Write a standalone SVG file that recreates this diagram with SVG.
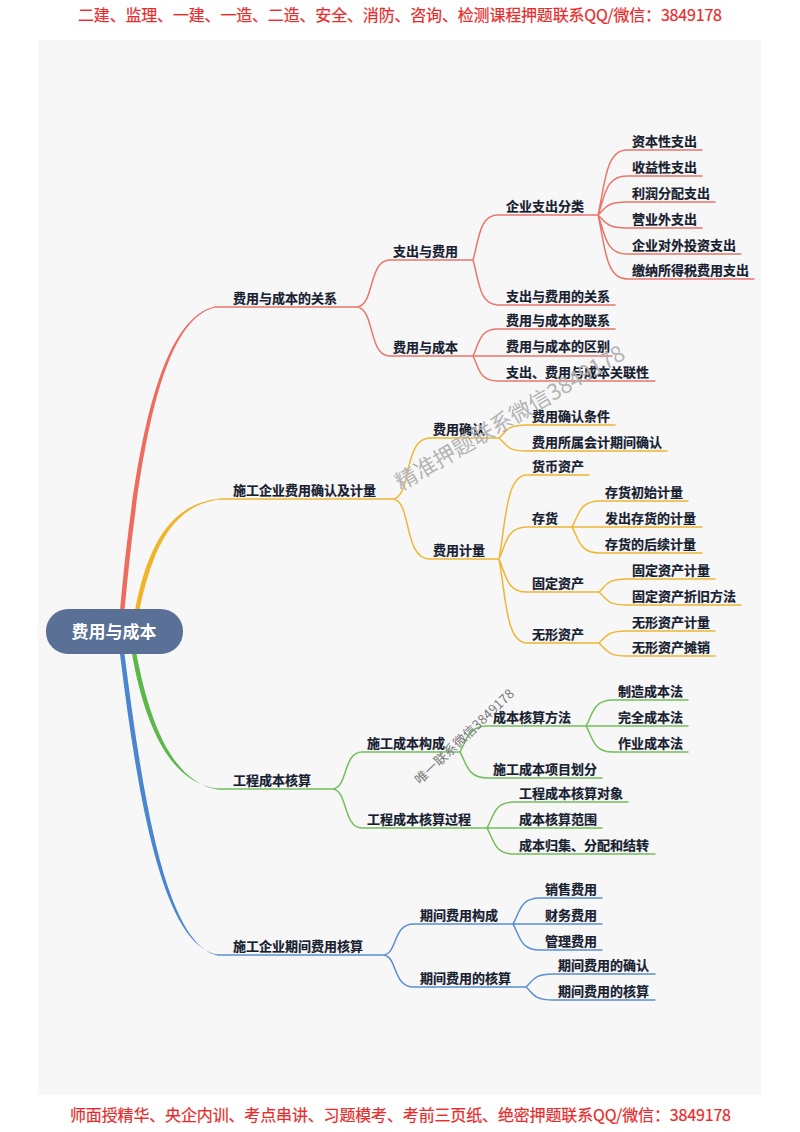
<svg xmlns="http://www.w3.org/2000/svg" width="800" height="1132" viewBox="0 0 800 1132">
<style>
text{font-family:"Noto Sans CJK SC","Liberation Sans",sans-serif}
.n{font-size:13px;font-weight:700;fill:#16202f;stroke:#16202f;stroke-width:.2px}
.b{font-size:16px;fill:#e92a2a;stroke:#e92a2a;stroke-width:.2px}
.l{fill:none;stroke-width:1.5;stroke-linecap:round}
.r{stroke:#e8776a}.y{stroke:#eeb735}.g{stroke:#74bf5c}.u{stroke:#5b8fcf}
</style>
<rect width="800" height="1132" fill="#fff"/>
<rect x="38" y="40" width="723" height="1055" fill="#f7f7f8"/>
<text class="b" x="78" y="21" textLength="644">二建、监理、一建、一造、二造、安全、消防、咨询、检测课程押题联系QQ/微信：3849178</text>
<g id="connectors">
<path fill="#ee6b5e" d="M120 610C132 480 153 320 215 306.500L215 307.500C156 321 137 480 124.500 610Z"/>
<path fill="#f0b429" d="M135 610C147 549 168 504 220 498.500L220 499.500C171 505 152 551 139.500 610Z"/>
<path fill="#5db84a" d="M132 654C144 721 168 783 218 788.500L218 789.500C171 782 149 719 136.500 654Z"/>
<path fill="#4a86d0" d="M120 654C138 801 163 946 218 954.500L218 955.500C166 945 143 799 124.500 654Z"/>
<path class="l r" d="M215 307H357M357 307C375 305 368 260 390 260H473M357 307C375 309 368 356 390 356H473M473 260C479 240 479 215 498 215H598M473 260C479 280 479 305 498 305H615M473 356C479 344 479 329 498 329H615M473 356H612M473 356C479 368 479 381 498 381H655M598 215C605 186 605 150 627 150H702M598 215C605 197 605 176 627 176H702M598 215C605 209 605 202 627 202H715M598 215C605 221 605 228 627 228H702M598 215C605 233 605 254 627 254H741M598 215C605 244 605 279 627 279H754"/>
<path class="l y" d="M220 499H393M393 499C412 497 403 438 430 438H499M393 499C412 501 403 559 430 559H499M499 438C506 432 506 425 527 425H615M499 438C506 444 506 451 527 451H667M499 559C506 521 506 475 527 475H589M499 559C506 545 506 527 527 527H572M499 559C506 574 506 592 527 592H599M499 559C506 597 506 643 527 643H599M572 527C579 515 579 501 600 501H688M572 527H702M572 527C579 539 579 553 600 553H702M599 592C606 586 606 579 627 579H715M599 592C606 598 606 605 627 605H741M599 643C606 637 606 631 627 631H715M599 643C606 649 606 656 627 656H715"/>
<path class="l g" d="M218 789H333M333 789C348 787 343 752 362 752H460M333 789C348 791 343 828 362 828H487M460 752C467 740 467 726 488 726H586M460 752C467 764 467 778 488 778H602M586 726C593 714 593 700 613 700H688M586 726H688M586 726C593 738 593 752 613 752H688M487 828C494 816 494 802 514 802H628M487 828H602M487 828C494 840 494 854 514 854H655"/>
<path class="l u" d="M218 955H383M383 955C398 954 392 924 414 924H513M383 955C398 956 392 987 414 987H526M513 924C520 912 520 898 540 898H602M513 924H602M513 924C520 936 520 950 540 950H602M526 987C533 981 533 974 553 974H655M526 987C533 993 533 1000 553 1000H655"/>
</g>
<g id="root"><rect x="46" y="609" width="137" height="45" rx="22" fill="#5a7096"/><text x="114" y="638" text-anchor="middle" font-size="17" font-weight="700" fill="#fff">费用与成本</text></g>
<g id="n1"><text class="n" x="233" y="303">费用与成本的关系</text></g>
<g id="n2"><text class="n" x="393" y="256">支出与费用</text></g>
<g id="n3"><text class="n" x="393" y="352">费用与成本</text></g>
<g id="n4"><text class="n" x="506" y="211">企业支出分类</text></g>
<g id="n5"><text class="n" x="506" y="301">支出与费用的关系</text></g>
<g id="n6"><text class="n" x="506" y="325">费用与成本的联系</text></g>
<g id="n7"><text class="n" x="506" y="351">费用与成本的区别</text></g>
<g id="n8"><text class="n" x="506" y="377">支出、费用与成本关联性</text></g>
<g id="n9"><text class="n" x="632" y="146">资本性支出</text></g>
<g id="n10"><text class="n" x="632" y="172">收益性支出</text></g>
<g id="n11"><text class="n" x="632" y="198">利润分配支出</text></g>
<g id="n12"><text class="n" x="632" y="224">营业外支出</text></g>
<g id="n13"><text class="n" x="632" y="250">企业对外投资支出</text></g>
<g id="n14"><text class="n" x="632" y="275">缴纳所得税费用支出</text></g>
<g id="n15"><text class="n" x="233" y="495">施工企业费用确认及计量</text></g>
<g id="n16"><text class="n" x="433" y="434">费用确认</text></g>
<g id="n17"><text class="n" x="433" y="555">费用计量</text></g>
<g id="n18"><text class="n" x="532" y="421">费用确认条件</text></g>
<g id="n19"><text class="n" x="532" y="447">费用所属会计期间确认</text></g>
<g id="n20"><text class="n" x="532" y="471">货币资产</text></g>
<g id="n21"><text class="n" x="532" y="523">存货</text></g>
<g id="n22"><text class="n" x="532" y="588">固定资产</text></g>
<g id="n23"><text class="n" x="532" y="639">无形资产</text></g>
<g id="n24"><text class="n" x="605" y="497">存货初始计量</text></g>
<g id="n25"><text class="n" x="605" y="523">发出存货的计量</text></g>
<g id="n26"><text class="n" x="605" y="549">存货的后续计量</text></g>
<g id="n27"><text class="n" x="632" y="575">固定资产计量</text></g>
<g id="n28"><text class="n" x="632" y="601">固定资产折旧方法</text></g>
<g id="n29"><text class="n" x="632" y="627">无形资产计量</text></g>
<g id="n30"><text class="n" x="632" y="652">无形资产摊销</text></g>
<g id="n31"><text class="n" x="233" y="785">工程成本核算</text></g>
<g id="n32"><text class="n" x="367" y="748">施工成本构成</text></g>
<g id="n33"><text class="n" x="367" y="824">工程成本核算过程</text></g>
<g id="n34"><text class="n" x="493" y="722">成本核算方法</text></g>
<g id="n35"><text class="n" x="493" y="774">施工成本项目划分</text></g>
<g id="n36"><text class="n" x="618" y="696">制造成本法</text></g>
<g id="n37"><text class="n" x="618" y="722">完全成本法</text></g>
<g id="n38"><text class="n" x="618" y="748">作业成本法</text></g>
<g id="n39"><text class="n" x="519" y="798">工程成本核算对象</text></g>
<g id="n40"><text class="n" x="519" y="824">成本核算范围</text></g>
<g id="n41"><text class="n" x="519" y="850">成本归集、分配和结转</text></g>
<g id="n42"><text class="n" x="233" y="951">施工企业期间费用核算</text></g>
<g id="n43"><text class="n" x="420" y="920">期间费用构成</text></g>
<g id="n44"><text class="n" x="420" y="983">期间费用的核算</text></g>
<g id="n45"><text class="n" x="545" y="894">销售费用</text></g>
<g id="n46"><text class="n" x="545" y="920">财务费用</text></g>
<g id="n47"><text class="n" x="545" y="946">管理费用</text></g>
<g id="n48"><text class="n" x="558" y="970">期间费用的确认</text></g>
<g id="n49"><text class="n" x="558" y="996">期间费用的核算</text></g>
<text x="401" y="491" transform="rotate(-30.500 401 491)" font-size="22" textLength="262" fill="#b4b4b4">精准押题联系微信3849178</text>
<text x="420" y="785" transform="rotate(-43.500 420 785)" font-size="13" textLength="131" fill="#7a7a7a">唯一联系微信3849178</text>
<text class="b" x="70" y="1121" textLength="661">师面授精华、央企内训、考点串讲、习题模考、考前三页纸、绝密押题联系QQ/微信：3849178</text>
</svg>
